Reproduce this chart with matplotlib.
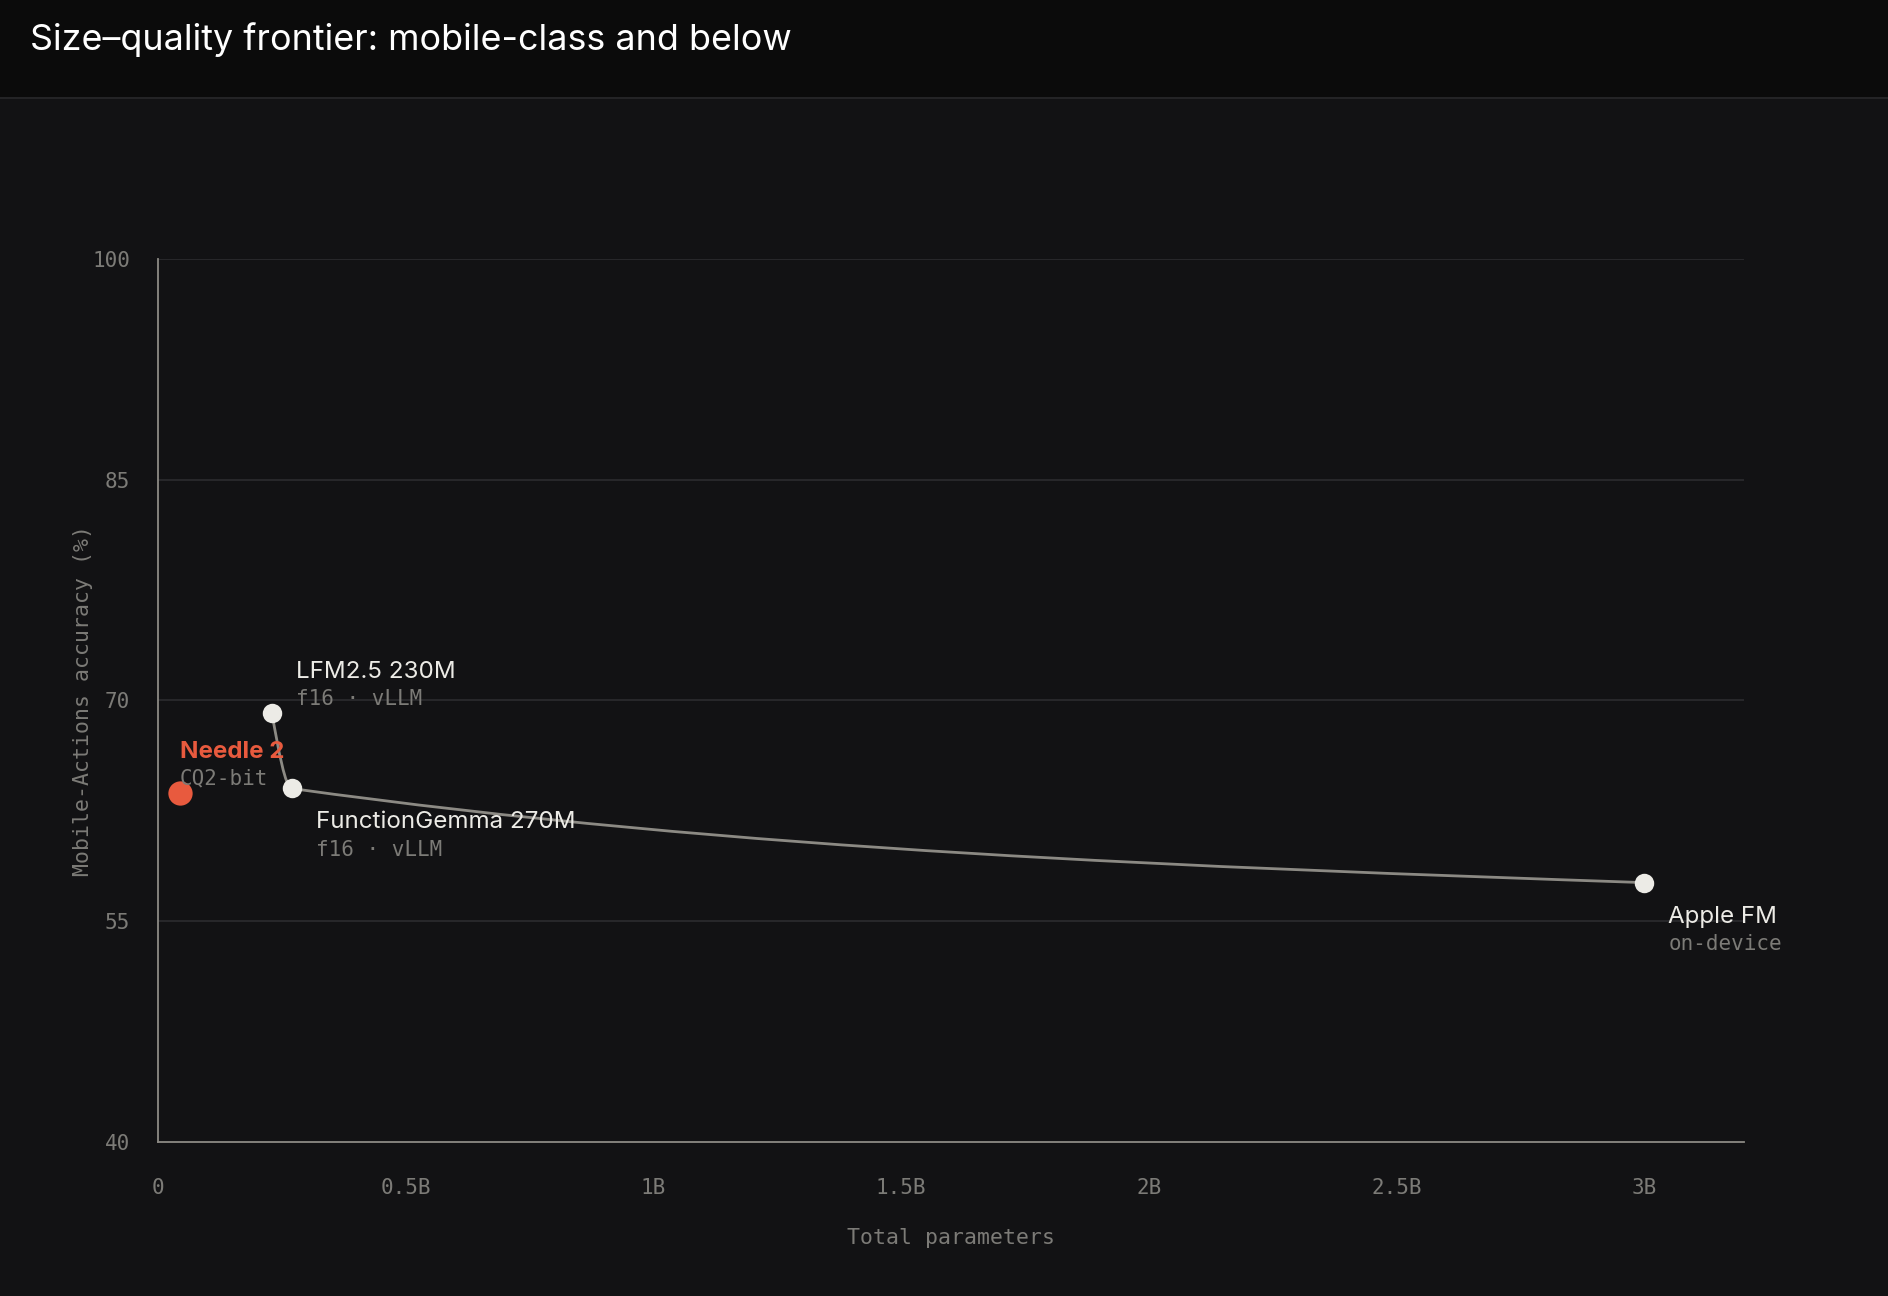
import numpy as np
import matplotlib.pyplot as plt
from matplotlib.path import Path
from matplotlib.patches import PathPatch, Rectangle

# data
names = ['Needle 2', 'LFM2.5 230M', 'FunctionGemma 270M', 'Apple FM']
subs = ['CQ2-bit', 'f16 · vLLM', 'f16 · vLLM', 'on-device']
params_b = [0.044, 0.23, 0.27, 3.0]
acc = [63.7, 69.1, 64.0, 57.6]
frontier = [1, 2, 3]          # indices joined by the frontier curve
label_pos = ['above', 'above', 'below', 'below']

x_ticks = [0, 0.5, 1, 1.5, 2, 2.5, 3]
x_tick_labels = ['0', '0.5B', '1B', '1.5B', '2B', '2.5B', '3B']
y_ticks = [40, 55, 70, 85, 100]

BG = '#121214'
HEAD = '#0b0b0b'
GRID = '#2a2a2d'
AXIS = '#8c8a84'
TICK = '#7c7b77'
WHITE = '#ecebe6'
RED = '#e85a3e'
SANS = ['Inter', 'DejaVu Sans']
MONO = ['DejaVu Sans Mono']

W, H = 1888, 1296
fig = plt.figure(figsize=(W / 100, H / 100), dpi=100, facecolor=BG)

# header band
fig.patches.append(Rectangle((0, 1 - 97 / H), 1, 97 / H, transform=fig.transFigure,
                             facecolor=HEAD, edgecolor='none', zorder=0))
fig.patches.append(Rectangle((0, 1 - 99 / H), 1, 2 / H, transform=fig.transFigure,
                             facecolor='#242426', edgecolor='none', zorder=1))
fig.text(30 / W, 1 - 39.5 / H, 'Size\u2013quality frontier: mobile-class and below',
         color='white', fontsize=25.8, family=SANS, va='center', ha='left')

ax = fig.add_axes([158 / W, 1 - 1141.5 / H, (1743.5 - 158) / W, (1141.5 - 259) / H])
ax.set_facecolor(BG)
ax.set_xlim(0, 3.2)
ax.set_ylim(40, 100)

for s in ['top', 'right']:
    ax.spines[s].set_visible(False)
for s in ['left', 'bottom']:
    ax.spines[s].set_color(AXIS)
    ax.spines[s].set_linewidth(1.3)

ax.set_yticks(y_ticks)
ax.set_xticks(x_ticks)
ax.set_xticklabels(x_tick_labels)
ax.tick_params(length=0, colors=TICK, labelsize=15)
ax.tick_params(axis='y', pad=20)
ax.tick_params(axis='x', pad=26)
for lab in ax.get_xticklabels() + ax.get_yticklabels():
    lab.set_family(MONO)
for yv in y_ticks[1:]:
    ax.axhline(yv, color=GRID, lw=1.3, zorder=1)

ax.set_xlabel('Total parameters', family=MONO, fontsize=15.5, color=TICK, va='center')
ax.set_ylabel('Mobile-Actions accuracy (%)', family=MONO, fontsize=15.5, color=TICK, va='center')
ax.xaxis.set_label_coords(0.5, (1141.5 - 1237.5) / 882.5)
ax.yaxis.set_label_coords((83 - 158) / 1585.5, 0.5)

# frontier curve: monotone-x cubic through frontier points
fx = np.array([params_b[i] for i in frontier])
fy = np.array([acc[i] for i in frontier])
n = len(fx)
h = np.diff(fx)
s = np.diff(fy) / h
t = np.zeros(n)
for i in range(1, n - 1):
    p = (s[i - 1] * h[i] + s[i] * h[i - 1]) / (h[i - 1] + h[i])
    t[i] = (np.sign(s[i - 1]) + np.sign(s[i])) * min(abs(s[i - 1]), abs(s[i]), 0.5 * abs(p))
t[0] = (3 * s[0] - t[1]) / 2
t[-1] = (3 * s[-1] - t[-2]) / 2
verts = [(fx[0], fy[0])]
codes = [Path.MOVETO]
for i in range(n - 1):
    dx = h[i] / 3
    verts += [(fx[i] + dx, fy[i] + dx * t[i]), (fx[i + 1] - dx, fy[i + 1] - dx * t[i + 1]),
              (fx[i + 1], fy[i + 1])]
    codes += [Path.CURVE4] * 3
ax.add_patch(PathPatch(Path(verts, codes), facecolor='none', edgecolor=AXIS, lw=2, zorder=2))

# points and labels
for i, name in enumerate(names):
    red = i == 0
    ax.plot(params_b[i], acc[i], 'o', ms=17.5 if red else 14, color=RED if red else WHITE,
            mec='none', zorder=4, clip_on=False)
    dx = 0 if red else 24
    if label_pos[i] == 'above':
        dy1, dy2 = 41, 14.5
    else:
        dy1, dy2 = -34, -61
    ax.annotate(name, (params_b[i], acc[i]), xytext=(dx, dy1), textcoords='offset pixels',
                ha='left', va='center', fontsize=17.4, family=SANS,
                color=RED if red else WHITE, fontweight='bold' if red else 'normal', zorder=5)
    ax.annotate(subs[i], (params_b[i], acc[i]), xytext=(dx, dy2), textcoords='offset pixels',
                ha='left', va='center', fontsize=15, family=MONO, color=TICK, zorder=5)

fig.savefig('out.png', dpi=100, facecolor=BG)
